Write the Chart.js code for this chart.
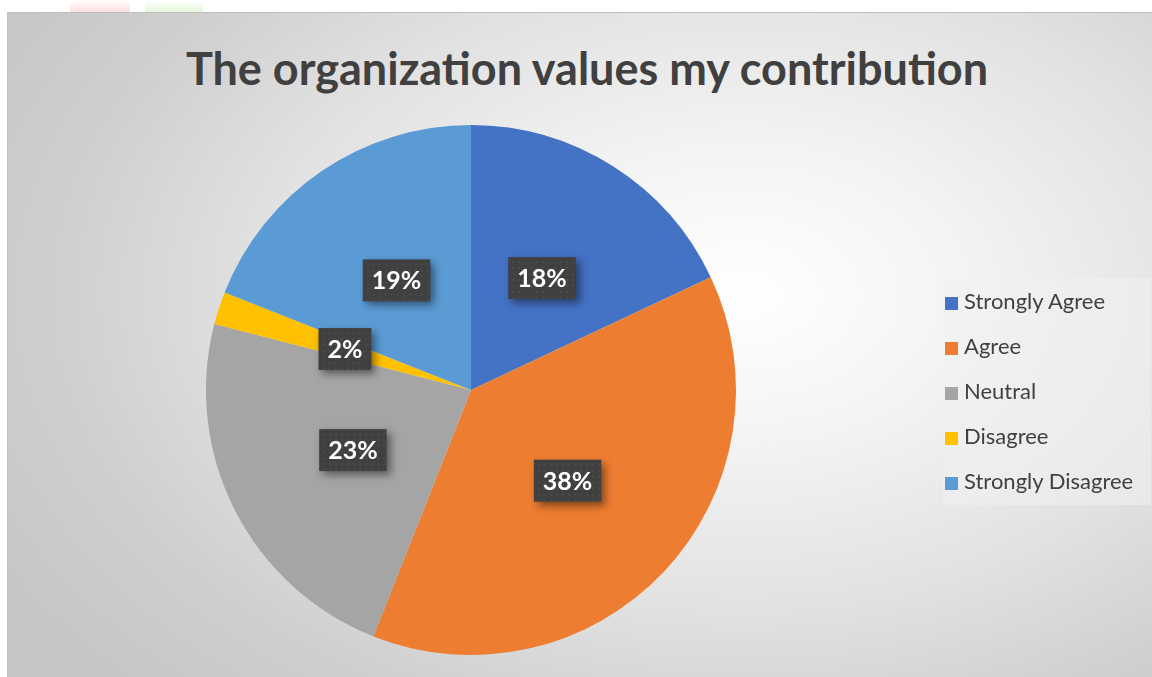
<!DOCTYPE html>
<html>
<head>
<meta charset="utf-8">
<script src="https://cdn.jsdelivr.net/npm/chart.js@4/dist/chart.umd.min.js"></script>
<style>
  html, body { margin: 0; padding: 0; background: #fff; width: 1152px; height: 677px; overflow: hidden; }
  .mark { position: absolute; top: 0; height: 12px; }
  #chartBox {
    position: absolute; left: 7px; top: 12px; width: 1150px; height: 670px;
    border: 1px solid #bfbfbf; box-sizing: border-box;
    background: radial-gradient(ellipse 75% 85% at 64% 42%, #ffffff 0%, #f4f4f4 25%, #e2e2e2 55%, #cfcfcf 80%, #c6c6c6 100%);
  }
  #title {
    position: absolute; left: 0; width: 1158px; top: 28px; text-align: center;
    font: bold 45px Lato, sans-serif; color: #404040; white-space: nowrap;
  }
  canvas { position: absolute; left: 0; top: 0; }
  #legend {
    position: absolute; left: 935px; top: 265px; width: 208px; height: 227px;
    background: rgba(240,240,240,0.55); padding-top: 0px; box-sizing: border-box;
    font: 22px Lato, sans-serif; color: #404040;
  }
  .item { height: 45px; line-height: 45px; padding-left: 2px; white-space: nowrap; }
  .sw { display: inline-block; width: 13px; height: 13px; margin-right: 6px; vertical-align: -1px; }
</style>
</head>
<body>
<div class="mark" style="left:70px;width:60px;background:linear-gradient(#fff,#ffdede);"></div>
<div class="mark" style="left:145px;width:58px;background:linear-gradient(#fff,#e6f7dc);"></div>
<div id="chartBox">
  <div id="title">The organization values my contribution</div>
  <canvas id="pie" width="1148" height="668"></canvas>
  <div id="legend"></div>
</div>
<script>
const categories = ['Strongly Agree', 'Agree', 'Neutral', 'Disagree', 'Strongly Disagree'];
const values = [18, 38, 23, 2, 19];
const colors = ['#4472C4', '#ED7D31', '#A5A5A5', '#FFC000', '#5B9BD5'];

// legend
const legend = document.getElementById('legend');
legend.innerHTML = categories.map((c, i) =>
  `<div class="item"><span class="sw" style="background:${colors[i]}"></span>${c}</div>`
).join('');

// dark boxed percentage labels at half radius
const boxLabels = {
  id: 'boxLabels',
  afterDatasetsDraw(chart) {
    const ctx = chart.ctx;
    const meta = chart.getDatasetMeta(0);
    const total = values.reduce((a, b) => a + b, 0);
    ctx.save();
    ctx.font = 'bold 25px Lato, sans-serif';
    meta.data.forEach((arc, i) => {
      const mid = (arc.startAngle + arc.endAngle) / 2;
      const r = arc.outerRadius * 0.5;
      const x = arc.x + Math.cos(mid) * r;
      const y = arc.y + Math.sin(mid) * r;
      const txt = Math.round(values[i] / total * 100) + '%';
      const w = ctx.measureText(txt).width + 18;
      const h = 42;
      ctx.shadowColor = 'rgba(0,0,0,0.45)';
      ctx.shadowBlur = 8;
      ctx.shadowOffsetX = 4;
      ctx.shadowOffsetY = 4;
      ctx.fillStyle = '#404040';
      ctx.fillRect(x - w / 2, y - h / 2, w, h);
      ctx.shadowColor = 'transparent';
      // faint dotted texture
      ctx.fillStyle = 'rgba(255,255,255,0.06)';
      for (let dx = 4; dx < w; dx += 6) {
        for (let dy = 4; dy < h; dy += 6) {
          ctx.fillRect(x - w / 2 + dx, y - h / 2 + dy, 2, 2);
        }
      }
      ctx.fillStyle = '#ffffff';
      ctx.textAlign = 'center';
      ctx.textBaseline = 'middle';
      ctx.fillText(txt, x, y + 1);
    });
    ctx.restore();
  }
};

new Chart(document.getElementById('pie'), {
  type: 'pie',
  data: {
    labels: categories,
    datasets: [{ data: values, backgroundColor: colors, borderWidth: 0 }]
  },
  options: {
    responsive: false,
    animation: false,
    layout: { padding: { left: 198, right: 420, top: 112, bottom: 26 } },
    plugins: {
      legend: { display: false },
      tooltip: { enabled: false }
    }
  },
  plugins: [boxLabels]
});
</script>
</body>
</html>
